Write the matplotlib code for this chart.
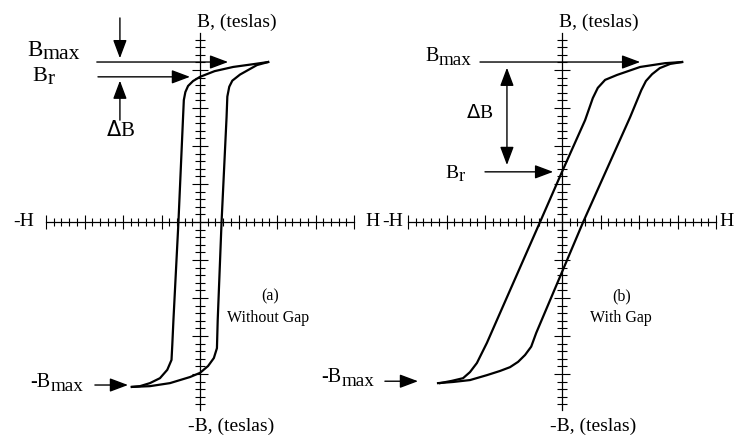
import numpy as np
import matplotlib
matplotlib.use('Agg')
import matplotlib.pyplot as plt
from matplotlib.ticker import FixedLocator

plt.rcParams['font.family'] = 'Liberation Serif'

###############################################################################
# B-H loops, H in major-tick units, B in major-tick units

# (a) core without gap: branch coming down from +Bmax ...
a_down_H = [1.77, 1.43, 0.86, 0.38, 0.0, -0.18, -0.31, -0.38, -0.42, -0.44,
            -0.56, -0.69, -0.72, -0.74, -0.85, -1.04, -1.30, -1.56, -1.77]
a_down_B = [4.21, 4.16, 4.08, 3.97, 3.82, 3.71, 3.58, 3.42, 3.21, 2.76,
            0.0, -2.58, -3.24, -3.63, -3.89, -4.11, -4.24, -4.32, -4.34]
# ... and branch going back up from -Bmax
a_up_H = [-1.77, -1.30, -0.78, -0.26, 0.0, 0.21, 0.36, 0.44, 0.46, 0.56,
          0.69, 0.71, 0.76, 0.84, 1.04, 1.48, 1.77]
a_up_B = [-4.34, -4.32, -4.24, -4.08, -3.97, -3.79, -3.58, -3.32, -2.58, 0.0,
          2.76, 3.30, 3.56, 3.72, 3.88, 4.13, 4.21]

# (b) core with gap
b_down_H = [3.12, 2.68, 2.03, 1.43, 1.12, 0.93, 0.80, 0.60, 0.0, -0.57,
            -1.69, -1.95, -2.21, -2.39, -2.57, -2.86, -3.17]
b_down_B = [4.21, 4.18, 4.08, 3.87, 3.74, 3.53, 3.26, 2.68, 1.32, 0.0,
            -2.58, -3.18, -3.71, -3.95, -4.11, -4.18, -4.24]
b_up_H = [-3.22, -2.83, -2.39, -1.95, -1.61, -1.35, -1.14, -0.96, -0.80, -0.67,
          0.55, 1.77, 2.06, 2.18, 2.34, 2.54, 2.81, 3.12]
b_up_B = [-4.24, -4.21, -4.16, -4.03, -3.92, -3.82, -3.68, -3.50, -3.28, -2.92,
          0.0, 2.76, 3.47, 3.71, 3.89, 4.05, 4.16, 4.21]

AXIS_TOP = 'B, (teslas)'
AXIS_BOTTOM = '-B, (teslas)'
captions = [('(a)', 'Without Gap'), ('(b)', 'With Gap')]

# view in tick units, 38.5 px per unit across and 38 px per unit up
YLIM = (-215 / 38.0, 222 / 38.0)
XLIM_A = (-200 / 38.5, 168 / 38.5)
XLIM_B = (-194 / 38.5, 174 / 38.5)

FS = 14
CAP_FS = 11.5


def setup_axes(ax, xlim):
    ax.set_xlim(xlim)
    ax.set_ylim(YLIM)
    ax.patch.set_visible(False)
    for s in ('top', 'right'):
        ax.spines[s].set_visible(False)
    for s in ('left', 'bottom'):
        ax.spines[s].set_position(('data', 0))
        ax.spines[s].set_linewidth(0.9)
    ax.spines['bottom'].set_bounds(-4, 4)
    ax.spines['left'].set_bounds(-4.95, 4.97)

    # crossing ticks, long ones every unit, short ones every fifth
    ax.xaxis.set_major_locator(FixedLocator(range(-4, 5)))
    ax.xaxis.set_minor_locator(FixedLocator([i / 5 for i in range(-20, 21) if i % 5]))
    ax.yaxis.set_major_locator(FixedLocator(range(-4, 5)))
    ax.yaxis.set_minor_locator(FixedLocator([i / 5 for i in range(-24, 25) if i % 5]))
    ax.tick_params(axis='x', which='major', direction='inout', length=9.5, width=0.8)
    ax.tick_params(axis='x', which='minor', direction='inout', length=6, width=0.8)
    ax.tick_params(axis='y', which='major', direction='inout', length=12, width=0.8)
    ax.tick_params(axis='y', which='minor', direction='inout', length=6.5, width=0.8)
    ax.tick_params(labelbottom=False, labelleft=False)


def arrow(ax, start, end, style='-|>'):
    ax.annotate('', xy=end, xytext=start, annotation_clip=False,
                arrowprops=dict(arrowstyle=style + ',head_length=0.8,head_width=0.3',
                                mutation_scale=14, lw=1.0, color='black',
                                shrinkA=0, shrinkB=0))


def sub_label(ax, x, y, base, sub, size):
    # subscript kept nearly full size, just dropped a little
    t = ax.text(x, y, base, ha='left', va='baseline', fontsize=size)
    ax.annotate(sub, xy=(1, 0), xycoords=t, xytext=(0.3, -2.3),
                textcoords='offset points', ha='left', va='bottom',
                fontsize=size * 0.95)


def draw_loop(ax, dH, dB, uH, uB):
    ax.plot(dH, dB, color='black', lw=1.6, solid_joinstyle='round')
    ax.plot(uH, uB, color='black', lw=1.6, solid_joinstyle='round')


fig = plt.figure(figsize=(7.36, 4.37), dpi=100)
ax_a = fig.add_axes([0, 0, 0.5, 1])
ax_b = fig.add_axes([0.5, 0, 0.5, 1])

for ax, xlim in ((ax_a, XLIM_A), (ax_b, XLIM_B)):
    setup_axes(ax, xlim)
    ax.text(-0.09, 5.13, AXIS_TOP, ha='left', va='baseline', fontsize=FS)
    ax.text(-0.31, -5.5, AXIS_BOTTOM, ha='left', va='baseline', fontsize=FS)

# (a)
draw_loop(ax_a, a_down_H, a_down_B, a_up_H, a_up_B)
a_bmax = a_down_B[0]
a_bmin = a_down_B[-1]
a_br = a_down_B[a_down_H.index(0.0)]

sub_label(ax_a, -4.49, 4.37, 'B', 'max', 16.5)
sub_label(ax_a, -4.36, 3.71, 'B', 'r', 16)
arrow(ax_a, (-2.68, a_bmax), (0.73, a_bmax))
arrow(ax_a, (-2.65, a_br), (-0.26, a_br))
arrow(ax_a, (-2.08, 5.37), (-2.08, a_bmax + 0.1))
arrow(ax_a, (-2.08, 2.68), (-2.08, a_br - 0.1))
ax_a.text(-2.05, 2.39, r'$\Delta$B', ha='center', va='center', fontsize=15)
sub_label(ax_a, -4.42, a_bmin, '-B', 'max', 14.5)
arrow(ax_a, (-2.73, a_bmin + 0.05), (-1.87, a_bmin + 0.05))
ax_a.text(-4.86, 0, '-H', ha='left', va='center', fontsize=FS)
ax_a.text(4.29, 0, 'H', ha='left', va='center', fontsize=FS)
ax_a.text(1.82, -1.95, captions[0][0], ha='center', va='center', fontsize=CAP_FS)
ax_a.text(1.77, -2.53, captions[0][1], ha='center', va='center', fontsize=CAP_FS)

# (b)
draw_loop(ax_b, b_down_H, b_down_B, b_up_H, b_up_B)
b_bmax = b_down_B[0]
b_bmin = b_down_B[-1]
b_br = b_down_B[b_down_H.index(0.0)]

sub_label(ax_b, -3.56, b_bmax + 0.03, 'B', 'max', 14.5)
arrow(ax_b, (-2.13, b_bmax), (2.03, b_bmax))
arrow(ax_b, (-1.43, b_bmax - 0.15), (-1.43, b_br + 0.18), style='<|-|>')
ax_b.text(-2.13, 2.87, r'$\Delta$B', ha='center', va='center', fontsize=FS)
sub_label(ax_b, -3.04, b_br - 0.15, 'B', 'r', FS)
arrow(ax_b, (-2.0, b_br), (-0.23, b_br))
sub_label(ax_b, -6.26, b_bmin + 0.03, '-B', 'max', 14.5)
arrow(ax_b, (-4.6, b_bmin + 0.05), (-3.74, b_bmin + 0.05))
ax_b.text(-4.68, 0, '-H', ha='left', va='center', fontsize=FS)
ax_b.text(4.10, 0, 'H', ha='left', va='center', fontsize=FS)
ax_b.text(1.56, -1.95, captions[1][0], ha='center', va='center', fontsize=CAP_FS)
ax_b.text(1.53, -2.53, captions[1][1], ha='center', va='center', fontsize=CAP_FS)

fig.savefig('out.png', dpi=100)
